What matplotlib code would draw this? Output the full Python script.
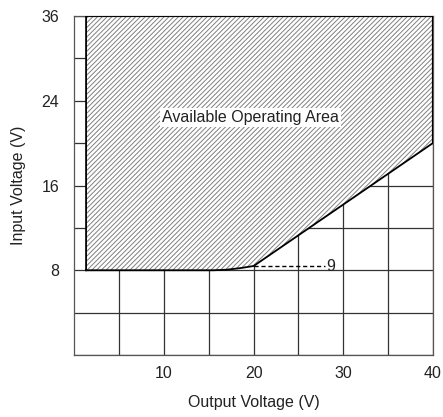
import numpy as np
import matplotlib
matplotlib.use("Agg")
import matplotlib.pyplot as plt
from matplotlib import font_manager

# condensed face if present, otherwise Arial-like
try:
    font_manager.findfont('Liberation Sans Narrow', fallback_to_default=False)
    main_font = 'Liberation Sans Narrow'
except Exception:
    main_font = 'Liberation Sans'
plt.rcParams['font.family'] = [main_font, 'DejaVu Sans']
plt.rcParams['hatch.linewidth'] = 0.7
plt.rcParams['hatch.color'] = '#808080'

# y grid levels (axis is stretched above 24 V)
y_levels = [0, 4, 8, 12, 16, 20, 24, 30, 36]
y_labels = ["", "", "8", "", "16", "", "24", "", "36"]
x_major = [10, 20, 30, 40]
x_minor = [5, 15, 25, 35]

# boundary of the operating area
area_x = [1.3, 1.3, 40, 40, 20, 18.5, 17, 15.5, 1.3]
area_y = [8, 36, 36, 20, 8.4, 8.2, 8.05, 8, 8]

dash_x = [20, 28]
dash_y = [8.4, 8.4]


def forward(y):
    return np.interp(y, y_levels, np.arange(len(y_levels)))


def inverse(i):
    return np.interp(i, np.arange(len(y_levels)), y_levels)


fs = 12.5 if main_font == 'Liberation Sans Narrow' else 11.5

fig = plt.figure(figsize=(4.43, 4.17), dpi=100)
ax = fig.add_axes([0.168, 0.1487, 0.809, 0.8129])
ax.set_yscale('function', functions=(forward, inverse))
ax.set_xlim(0, 40)
ax.set_ylim(0, 36)

ax.set_xticks(x_major)
ax.set_xticks(x_minor, minor=True)
ax.set_yticks(y_levels)
ax.set_yticklabels(y_labels)
ax.yaxis.set_minor_locator(matplotlib.ticker.NullLocator())
ax.grid(True, which='both', color='#333333', linewidth=0.9)
ax.set_axisbelow(True)
ax.tick_params(axis='both', which='both', length=0, labelsize=fs, colors='#222222')
ax.tick_params(axis='y', pad=11)
ax.tick_params(axis='x', pad=8)
for s in ax.spines.values():
    s.set_color('#555555')
    s.set_linewidth(0.9)

ax.fill(area_x, area_y, facecolor='white', hatch='///////', edgecolor='#808080',
        linewidth=0, zorder=2)
ax.plot(area_x, area_y, color='black', linewidth=1.3, zorder=3)
ax.plot(dash_x, dash_y, color='black', linewidth=1, linestyle=(0, (3, 2)), zorder=3)
ax.text(28.1, 8.4, "9", ha='left', va='center', fontsize=fs, color='#222222', zorder=4)

ax.text(19.7, 22.4, "Available Operating Area", ha='center', va='center',
        fontsize=fs, color='#222222', zorder=4,
        bbox=dict(facecolor='white', edgecolor='none', pad=1.5))

ax.set_xlabel("Output Voltage (V)", fontsize=fs, color='#222222', labelpad=10)
ax.set_ylabel("Input Voltage (V)", fontsize=fs, color='#222222', labelpad=11)

fig.savefig("out.png", dpi=100)
